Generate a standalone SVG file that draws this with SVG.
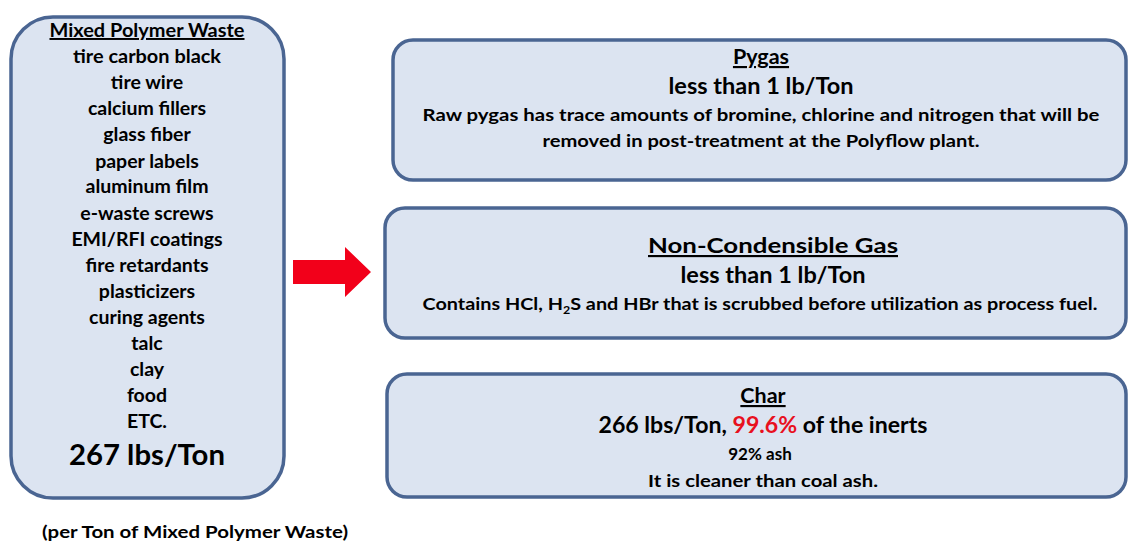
<svg xmlns="http://www.w3.org/2000/svg" width="1128" height="542" viewBox="0 0 1128 542">
<style>
.box{fill:#dce4f1;stroke:#4a6592;stroke-width:3.5}
text{font-family:Lato,"Open Sans","Liberation Sans",sans-serif;font-weight:bold;fill:#000;text-anchor:middle}
.l{font-size:19.5px}
.t{font-size:21.5px;text-decoration:underline}
.m{font-size:23px}
.s{font-size:17.5px}
.red{fill:#e8101e}
</style>
<rect width="1128" height="542" fill="#fff"/>
<g id="connectors">
<polygon points="293,260 345,260 345,247 371,272 345,297 345,284 293,284" fill="#f2001a"/>
</g>
<g id="node-waste">
<rect class="box" x="11" y="17" width="273" height="481" rx="42"/>
<text class="l" x="147" y="37" textLength="195" lengthAdjust="spacingAndGlyphs" style="text-decoration:underline">Mixed Polymer Waste</text>
<text class="l" x="147" y="63" textLength="148" lengthAdjust="spacingAndGlyphs">tire carbon black</text>
<text class="l" x="147" y="89">tire wire</text>
<text class="l" x="147" y="115">calcium fillers</text>
<text class="l" x="147" y="141">glass fiber</text>
<text class="l" x="147" y="168">paper labels</text>
<text class="l" x="147" y="193">aluminum film</text>
<text class="l" x="147" y="220">e-waste screws</text>
<text class="l" x="147" y="246">EMI/RFI coatings</text>
<text class="l" x="147" y="272">fire retardants</text>
<text class="l" x="147" y="298">plasticizers</text>
<text class="l" x="147" y="324">curing agents</text>
<text class="l" x="147" y="350">talc</text>
<text class="l" x="147" y="376">clay</text>
<text class="l" x="147" y="402">food</text>
<text class="l" x="147" y="428">ETC.</text>
<text x="147" y="465" style="font-size:29px" textLength="156" lengthAdjust="spacingAndGlyphs">267 lbs/Ton</text>
</g>
<g id="node-pygas">
<rect class="box" x="393" y="40" width="733" height="140" rx="20"/>
<text class="t" x="761" y="64">Pygas</text>
<text class="m" x="761" y="94" textLength="185" lengthAdjust="spacingAndGlyphs">less than 1 lb/Ton</text>
<text class="s" x="761" y="121" textLength="677" lengthAdjust="spacingAndGlyphs">Raw pygas has trace amounts of  bromine, chlorine and nitrogen that will be</text>
<text class="s" x="761" y="147" textLength="437" lengthAdjust="spacingAndGlyphs">removed in post-treatment at the Polyflow plant.</text>
</g>
<g id="node-ncg">
<rect class="box" x="385" y="208" width="741" height="130" rx="20"/>
<text class="t" x="773" y="253" textLength="250" lengthAdjust="spacingAndGlyphs">Non-Condensible Gas</text>
<text class="m" x="773" y="283" textLength="185" lengthAdjust="spacingAndGlyphs">less than 1 lb/Ton</text>
<text class="s" x="760" y="310" textLength="675" lengthAdjust="spacingAndGlyphs">Contains HCl, H<tspan style="font-size:11px" dy="4">2</tspan><tspan dy="-4">S and HBr that is scrubbed before utilization as process fuel.</tspan></text>
</g>
<g id="node-char">
<rect class="box" x="387" y="374" width="739" height="123" rx="20"/>
<text class="t" x="763" y="403">Char</text>
<text class="m" x="763" y="433" textLength="329" lengthAdjust="spacingAndGlyphs">266 lbs/Ton, <tspan class="red">99.6%</tspan> of the inerts</text>
<text x="760" y="460" style="font-size:17px">92% ash</text>
<text class="s" x="763" y="487" textLength="230" lengthAdjust="spacingAndGlyphs">It is cleaner than coal ash.</text>
</g>
<text class="s" x="195" y="538" textLength="306" lengthAdjust="spacingAndGlyphs">(per Ton of Mixed Polymer Waste)</text>
</svg>
